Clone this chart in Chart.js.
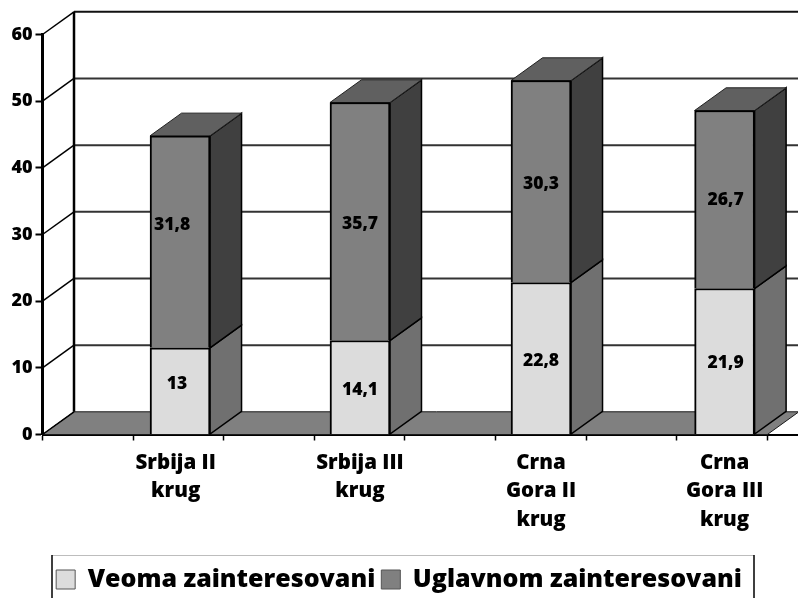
<!DOCTYPE html>
<html><head><meta charset="utf-8">
<style>html,body{margin:0;padding:0;background:#fff}#w{width:798px;height:598px}</style>
<script src="https://cdn.jsdelivr.net/npm/chart.js@4"></script>
</head><body><div id="w"><canvas id="c"></canvas></div>
<script>
const categories = [["Srbija II","krug"],["Srbija III","krug"],["Crna","Gora II","krug"],["Crna","Gora III","krug"]];
const veoma = [13, 14.1, 22.8, 21.9];
const uglavnom = [31.8, 35.7, 30.3, 26.7];
const veomaText = ["13","14,1","22,8","21,9"];
const uglavnomText = ["31,8","35,7","30,3","26,7"];
const yTicks = [0,10,20,30,40,50,60];
const barSlots = [0.759,1.752,2.751,3.764];
const labelSlots = [0.735,1.752,2.751,3.764];
const markSlots = [0,0.5,1,1.5,2,2.5,3,3.5,4];
const SLOT_MAX = 4.169;
const DEPTH_X = 31.5, DEPTH_Y = 22.7;
const FONT = '"Open Sans"';
const nudgeVeoma = [[-3,-7],[0,3],[0,3],[1,2]];
const nudgeUglavnom = [[-8,-17],[0,3],[0,3],[1,1]];

function poly(ctx, pts, fill, stroke, lw){
  ctx.beginPath();
  pts.forEach((p,i)=> i?ctx.lineTo(p[0],p[1]):ctx.moveTo(p[0],p[1]));
  ctx.closePath();
  if(fill){ctx.fillStyle=fill;ctx.fill();}
  if(stroke){ctx.strokeStyle=stroke;ctx.lineWidth=lw;ctx.stroke();}
}
const scene = {
  id:'scene',
  beforeDatasetsDraw(chart){
    const {ctx,scales:{x,y}}=chart;
    const L=x.getPixelForValue(0), R=x.getPixelForValue(4), Y0=y.getPixelForValue(0);
    ctx.save();
    poly(ctx,[[L,Y0],[L+DEPTH_X,Y0-DEPTH_Y],[R+DEPTH_X,Y0-DEPTH_Y],[R,Y0]],'#808080','#1a1a1a',1);
    yTicks.forEach(v=>{
      const p=y.getPixelForValue(v);
      ctx.strokeStyle=v===60?'#111':'#333';ctx.lineWidth=2;
      if(v>0){ctx.beginPath();ctx.moveTo(L+DEPTH_X,p-DEPTH_Y);ctx.lineTo(798,p-DEPTH_Y);ctx.stroke();}
      ctx.strokeStyle='#000';ctx.lineWidth=1.5;
      ctx.beginPath();ctx.moveTo(L,p);ctx.lineTo(L+DEPTH_X,p-DEPTH_Y);ctx.stroke();
    });
    ctx.strokeStyle='#000';ctx.lineWidth=2.5;
    ctx.beginPath();ctx.moveTo(L+DEPTH_X,y.getPixelForValue(60)-DEPTH_Y);ctx.lineTo(L+DEPTH_X,Y0-DEPTH_Y);ctx.stroke();
    const sideCols=['#707070','#404040'];
    [0,1].forEach(d=>{
      chart.getDatasetMeta(d).data.forEach(b=>{
        const r=b.x+b.width/2, t=b.y, bt=b.base;
        poly(ctx,[[r,t],[r+DEPTH_X,t-DEPTH_Y],[r+DEPTH_X,bt-DEPTH_Y],[r,bt]],sideCols[d],'#000',1.5);
        if(d===1){
          const l=b.x-b.width/2;
          poly(ctx,[[l,t],[l+DEPTH_X,t-DEPTH_Y],[r+DEPTH_X,t-DEPTH_Y],[r,t]],'#606060','#222',1);
        }
      });
    });
    ctx.restore();
  },
  afterDatasetsDraw(chart){
    const {ctx}=chart;
    ctx.save();
    ctx.font='800 17.5px '+FONT;ctx.fillStyle='#000';ctx.textAlign='center';ctx.textBaseline='middle';
    [[veomaText,nudgeVeoma],[uglavnomText,nudgeUglavnom]].forEach(([txt,nd],d)=>{
      chart.getDatasetMeta(d).data.forEach((b,i)=>{
        ctx.fillText(txt[i],b.x+nd[i][0],(b.y+b.base)/2+nd[i][1]);
      });
    });
    ctx.restore();
  },
  afterDraw(chart){
    const {ctx}=chart;
    ctx.save();
    ctx.strokeStyle='#bdbdbd';ctx.lineWidth=1;
    ctx.beginPath();ctx.moveTo(52,555.5);ctx.lineTo(754,555.5);ctx.stroke();
    ctx.strokeStyle='#000';ctx.lineWidth=1.5;
    ctx.beginPath();ctx.moveTo(52,555);ctx.lineTo(52,598);ctx.moveTo(754,555);ctx.lineTo(754,598);ctx.stroke();
    ctx.restore();
  }
};
new Chart(document.getElementById('c'),{
  type:'bar',
  data:{datasets:[
    {label:'Veoma zainteresovani',data:veoma.map((v,i)=>({x:barSlots[i],y:v})),backgroundColor:'#dcdcdc',borderColor:'#000',borderWidth:2,barThickness:60},
    {label:'Uglavnom zainteresovani',data:uglavnom.map((v,i)=>({x:barSlots[i],y:v})),backgroundColor:'#808080',borderColor:'#000',borderWidth:2,barThickness:60}
  ]},
  options:{
    responsive:true,maintainAspectRatio:false,animation:false,
    layout:{padding:{top:34.5,left:0,right:0,bottom:-4}},
    plugins:{
      tooltip:{enabled:false},
      legend:{position:'bottom',labels:{boxWidth:19,boxHeight:19,padding:6,color:'#000',font:{family:FONT,weight:'800',size:25},
        generateLabels(ch){
          return Chart.defaults.plugins.legend.labels.generateLabels(ch).map(l=>Object.assign(l,{lineWidth:1,strokeStyle:'#555'}));
        }}}
    },
    scales:{
      x:{type:'linear',stacked:true,min:0,max:SLOT_MAX,offset:false,
        afterBuildTicks(s){
          s.ticks=[...markSlots,...labelSlots].sort((a,b)=>a-b).map(v=>({value:v}));
        },
        afterFit(s){s.height=602-434.5-(s.chart.legend?s.chart.legend.height:44);},
        border:{color:'#000',width:2},
        grid:{offset:false,drawOnChartArea:false,tickLength:6,tickWidth:1.5,
          tickColor:c=>labelSlots.includes(c.tick&&c.tick.value)?'rgba(0,0,0,0)':'#000'},
        ticks:{autoSkip:false,maxRotation:0,minRotation:0,padding:8,color:'#000',
          font:{family:FONT,weight:'800',size:20.5,lineHeight:1.4},
          callback(v){const i=labelSlots.indexOf(v);return i>=0?categories[i]:'';}}
      },
      y:{stacked:true,min:0,max:60,
        afterBuildTicks(s){s.ticks=yTicks.map(v=>({value:v}));},
        afterFit(s){s.width=42.5;},
        border:{color:'#000',width:3},
        grid:{drawOnChartArea:false,tickLength:7,tickWidth:2,tickColor:'#000'},
        ticks:{padding:3,color:'#000',font:{family:FONT,weight:'800',size:18}}
      }
    }
  },
  plugins:[scene]
});
</script></body></html>
